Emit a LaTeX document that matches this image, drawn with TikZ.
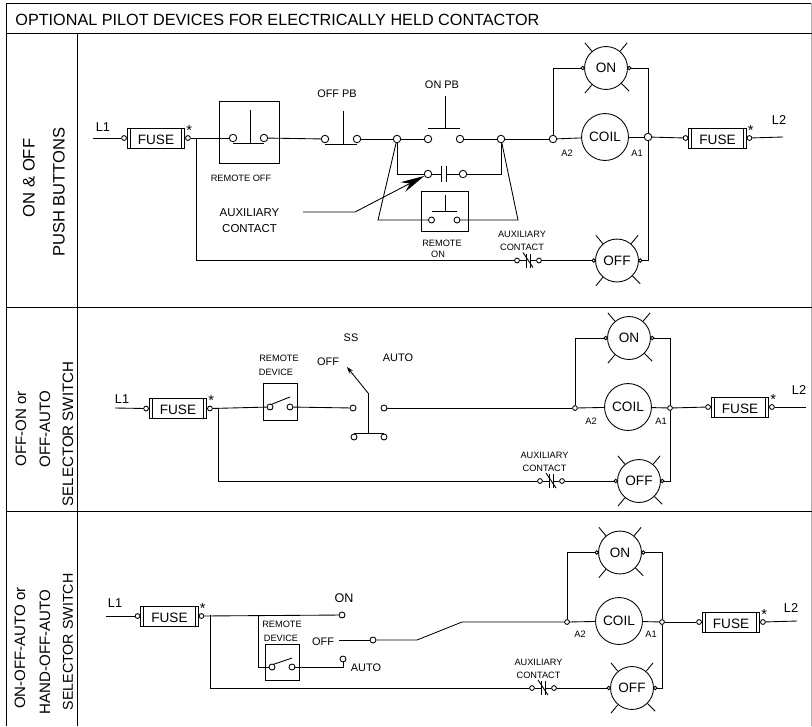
\documentclass[tikz,border=0pt]{standalone}
\usepackage{fontspec}
\setmainfont{Liberation Sans}
\usetikzlibrary{arrows.meta}
\begin{document}
\begin{tikzpicture}[x=0.75pt,y=-0.75pt,line width=0.65pt,
        term/.style={circle,draw,fill=white,minimum size=5.6pt,inner sep=0pt},
        sterm/.style={circle,draw,fill=white,minimum size=4.5pt,inner sep=0pt},
        jct/.style={circle,draw,fill=white,minimum size=3.6pt,inner sep=0pt},
        tinyterm/.style={circle,draw,fill=white,minimum size=2.6pt,inner sep=0pt},
        fusebox/.style={rectangle,draw,minimum width=43pt,minimum height=15pt,inner sep=0pt,
            text height=9.4pt,text depth=0pt,font=\fontsize{10.2}{12}\selectfont},
        lamp/.style={circle,draw,minimum size=32.2pt,inner sep=0pt,
            font=\fontsize{10.2}{12}\selectfont},
        coil/.style={circle,draw,minimum size=35.2pt,inner sep=0pt,
            font=\fontsize{10.2}{12}\selectfont},
        headtxt/.style={font=\fontsize{12.15}{14}\selectfont,anchor=west,inner sep=0pt},
        sidetxt/.style={font=\fontsize{11.3}{14}\selectfont,rotate=90,inner sep=0pt},
        linetxt/.style={font=\fontsize{9.6}{12}\selectfont,inner sep=0pt},
        startxt/.style={font=\fontsize{11}{12}\selectfont,inner sep=0pt},
        lbl/.style={font=\fontsize{8.2}{10}\selectfont,inner sep=0pt},
        pinlbl/.style={font=\fontsize{7}{9}\selectfont,inner sep=0pt},
        auxtxt/.style={font=\fontsize{8.6}{12}\selectfont,inner sep=0pt,align=center},
        smalltxt/.style={font=\fontsize{6.9}{9.75}\selectfont,inner sep=0pt,align=center}]
\useasboundingbox (0,0) rectangle (812,726);

% table
\draw (6.5,726) -- (6.5,3.3) -- (811.5,3.3);
\draw[color=gray!60] (811.5,3.3) -- (811.5,726);
\draw (6.5,33) -- (811.5,33);
\draw (6.5,307) -- (811.5,307);
\draw (6.5,511) -- (811.5,511);
\draw (77,33) -- (77,726);
\node[headtxt] (title) at (15,20) {OPTIONAL PILOT DEVICES FOR ELECTRICALLY HELD CONTACTOR};

\node[sidetxt,font=\fontsize{12.5}{14}\selectfont] (sida) at (29,178) {ON \& OFF};
\node[sidetxt,font=\fontsize{12.4}{14}\selectfont] (sidb) at (59,192) {PUSH BUTTONS};
\node[sidetxt] (sidc) at (21,429) {OFF-ON or};
\node[sidetxt] (sidd) at (45,429) {OFF-AUTO};
\node[sidetxt] (side) at (68,434) {SELECTOR SWITCH};
\node[sidetxt] (sidf) at (20,648) {ON-OFF-AUTO or};
\node[sidetxt] (sidg) at (45,652) {HAND-OFF-AUTO};
\node[sidetxt,font=\fontsize{10.7}{14}\selectfont] (sidh) at (68,642) {SELECTOR SWITCH};

% fuses
\foreach \nm/\cx/\cy in {fa1/156/138,fa2/717.5/138,fb1/178/408.5,fb2/740/407,fc1/169.5/616,fc2/731/622}{
    \node[fusebox] (\nm) at (\cx,\cy) {FUSE};
    \draw ([xshift=2.4pt]\nm.north west) -- ([xshift=2.4pt]\nm.south west);
    \draw ([xshift=-2.4pt]\nm.north east) -- ([xshift=-2.4pt]\nm.south east);
    \node[jct,anchor=east] (\nm-l) at (\nm.west) {};
    \node[jct,anchor=west] (\nm-r) at (\nm.east) {};
    \node[startxt,anchor=south] (\nm-s) at ([xshift=1pt,yshift=-0.5pt]\nm-r.north) {*};
}

% lamps
\foreach \nm/\cx/\cy/\txt in {ona/606/68/ON,offa/617/260.5/OFF,onb/629/338/ON,offb/639/481/OFF,onc/620/552.5/ON,offc/632/688/OFF}{
    \node[lamp] (\nm) at (\cx,\cy) {\txt};
    \node[tinyterm] (\nm-l) at ([xshift=-1pt]\nm.west) {};
    \node[tinyterm] (\nm-r) at ([xshift=1pt]\nm.east) {};
    \foreach \a in {50,130,230,315}
        \draw (\nm.\a) -- ++(\a:8.2pt);
}

% coils
\node[coil] (coila) at (605,137) {COIL};
\node[coil] (coilb) at (628,407) {COIL};
\node[coil] (coilc) at (619,621) {COIL};
\node[pinlbl] (a2a) at (567,153) {A2};
\node[pinlbl] (a1a) at (637,153) {A1};
\node[pinlbl] (a2b) at (591,421) {A2};
\node[pinlbl] (a1b) at (661,421) {A1};
\node[pinlbl] (a2c) at (580,634) {A2};
\node[pinlbl] (a1c) at (651,634) {A1};

% auxiliary contacts, normally closed
\foreach \nm/\cx/\cy in {nca/528/260.5,ncb/551/481,ncc/543/688}{
    \node[jct] (\nm-l) at ({\cx-11},\cy) {};
    \node[jct] (\nm-r) at ({\cx+11},\cy) {};
    \draw (\nm-l) -- ++(9,0);
    \draw (\nm-r) -- ++(-9,0);
    \draw ({\cx-2},{\cy-7}) -- ({\cx-2},{\cy+7});
    \draw ({\cx+2},{\cy-7}) -- ({\cx+2},{\cy+7});
    \draw ({\cx-5},{\cy-8}) -- ({\cx+5},{\cy+7});
}
\node[smalltxt] (auxa) at (522,240.5) {AUXILIARY\\CONTACT};
\node[smalltxt] (auxb) at (544.5,461.5) {AUXILIARY\\CONTACT};
\node[smalltxt] (auxc) at (538.5,668.5) {AUXILIARY\\CONTACT};

% first row
\node[linetxt] (lna) at (103,127) {L1};
\node[linetxt] (lnb) at (779,120) {L2};
\coordinate (ina) at (93,138);
\coordinate (outa) at (783,137);
\coordinate (bra) at (196,138);

\draw (219,101) rectangle (279,163);
\node[term] (rofa) at (233,138) {};
\node[term] (rofb) at (264,138) {};
\draw (233,143) -- (264,143);
\draw (250,110) -- (250,143);
\node[smalltxt] (rof) at (241,178) {REMOTE OFF};

\node[term] (ofpa) at (325,139) {};
\node[term] (ofpb) at (357,139) {};
\draw (325,144) -- (357,144);
\draw (343,111) -- (343,144);
\node[lbl] (ofp) at (337,94) {OFF PB};

\node[term] (jna) at (397,139) {};
\node[term] (jnb) at (501,139) {};
\node[term] (onpa) at (428,139) {};
\node[term] (onpb) at (460,139) {};
\draw (428,128) -- (460,128);
\draw (445,96) -- (445,128);
\node[lbl] (onp) at (442,85) {ON PB};

\node[term] (hola) at (428,174) {};
\node[term] (holb) at (463,174) {};
\coordinate (capa) at (441,174);
\coordinate (capb) at (446,174);
\draw (441,166) -- (441,182);
\draw (446,166) -- (446,182);
\draw (hola) -- (capa);
\draw (capb) -- (holb);

\draw (421,191) rectangle (468,231);
\node[sterm] (rona) at (431.5,220) {};
\node[sterm] (ronb) at (457,220) {};
\draw (432,211) -- (457,211);
\draw (445,195) -- (445,211);
\node[smalltxt] (rona1) at (442,243) {REMOTE};
\node[smalltxt] (rona2) at (438,254) {ON};
\coordinate (tza) at (378,220);
\coordinate (tzb) at (518,220);

\node[auxtxt] (auxd) at (249.5,221) {AUXILIARY\\CONTACT};
\coordinate (leada) at (303,212);
\coordinate (leadb) at (355,212);
\draw[-{Stealth[length=18pt,width=8pt]}] (leada) -- (leadb) -- (hola);

\node[term] (jpa) at (553,139) {};
\node[term] (jqa) at (648,137) {};

\draw (ina) -- (fa1-l);
\draw (fa1-r) -- (rofa);
\draw (rofb) -- (ofpa);
\draw (ofpb) -- (jna);
\draw (jna) -- (onpa);
\draw (onpb) -- (jnb);
\draw (jnb) -- (jpa);
\draw (jpa) -- (coila);
\draw (coila) -- (jqa);
\draw (jqa) -- (fa2-l);
\draw (fa2-r) -- (outa);
\draw (jna) |- (hola);
\draw (holb) -| (jnb);
\draw (jna) -- (tza) -- (rona);
\draw (ronb) -- (tzb) -- (jnb);
\draw (jpa) |- (ona-l);
\draw (jqa) |- (ona-r);
\draw (jqa) |- (offa-r);
\draw (bra) |- (nca-l);
\draw (nca-r) -- (offa-l);

% second row
\node[linetxt] (lnc) at (122,399) {L1};
\node[linetxt] (lnd) at (799,390) {L2};
\coordinate (inb) at (115,408);
\coordinate (outb) at (806,407);
\coordinate (brb) at (218,408);

\draw (263,383) rectangle (297,420);
\node[sterm] (rdba) at (270,407) {};
\node[sterm] (rdbb) at (290,407) {};
\draw (271,404.5) -- (290,397);
\node[smalltxt] (rdb1) at (279,358) {REMOTE};
\node[smalltxt] (rdb2) at (276,372) {DEVICE};

\node[sterm] (ssa) at (353,408) {};
\node[sterm] (ssb) at (384,408) {};
\node[sterm] (ssc) at (354,437) {};
\node[sterm] (ssd) at (384,437) {};
\coordinate (sshub) at (368,393);
\coordinate (sstip) at (347,367);
\draw[-{Stealth[length=5pt,width=3.5pt]}] (sshub) -- (sstip);
\draw (368,393) -- (368,433);
\draw (354,433) -- (384,433);
\node[lbl] (ssl) at (351,338) {SS};
\node[lbl] (ssm) at (328,362) {OFF};
\node[lbl] (ssn) at (398,358) {AUTO};

\node[jct] (jpb) at (575,408) {};
\node[jct] (jqb) at (670,408) {};

\draw (inb) -- (fb1-l);
\draw (fb1-r) -- (rdba);
\draw (rdbb) -- (ssa);
\draw (ssb) -- (jpb);
\draw (jpb) -- (coilb);
\draw (coilb) -- (jqb);
\draw (jqb) -- (fb2-l);
\draw (fb2-r) -- (outb);
\draw (jpb) |- (onb-l);
\draw (jqb) |- (onb-r);
\draw (jqb) |- (offb-r);
\draw (brb) |- (ncb-l);
\draw (ncb-r) -- (offb-l);

% third row
\node[linetxt] (lne) at (115,603) {L1};
\node[linetxt] (lnf) at (791,608) {L2};
\coordinate (inc) at (106,616);
\coordinate (outc) at (797,621);
\coordinate (brc) at (210,615);
\coordinate (brd) at (258,615);

\draw (265,644) rectangle (299,680);
\node[sterm] (rdca) at (272,667) {};
\node[sterm] (rdcb) at (292,667) {};
\draw (273,664.5) -- (292,658);
\node[smalltxt] (rdc1) at (282,624) {REMOTE};
\node[smalltxt] (rdc2) at (281,638) {DEVICE};

\node[sterm] (selon) at (342,615) {};
\node[sterm] (seloff) at (373,640) {};
\node[sterm] (selauto) at (343,659) {};
\coordinate (sela) at (339,640);
\coordinate (selb) at (417,640);
\coordinate (selc) at (462,622);
\node[lbl,font=\fontsize{9.4}{12}\selectfont] (sl1) at (344,598) {ON};
\node[lbl] (sl2) at (323,642) {OFF};
\node[lbl] (sl3) at (366,668) {AUTO};

\node[jct] (jpc) at (567,622) {};
\node[jct] (jqc) at (662,622) {};

\draw (inc) -- (fc1-l);
\draw (fc1-r) -- (selon);
\draw (brd) |- (rdca);
\draw (rdcb) -| (selauto);
\draw (sela) -- (seloff);
\draw (seloff) -- (selb) -- (selc) -- (jpc);
\draw (jpc) -- (coilc);
\draw (coilc) -- (jqc);
\draw (jqc) -- (fc2-l);
\draw (fc2-r) -- (outc);
\draw (jpc) |- (onc-l);
\draw (jqc) |- (onc-r);
\draw (jqc) |- (offc-r);
\draw (brc) |- (ncc-l);
\draw (ncc-r) -- (offc-l);
\end{tikzpicture}
\end{document}
